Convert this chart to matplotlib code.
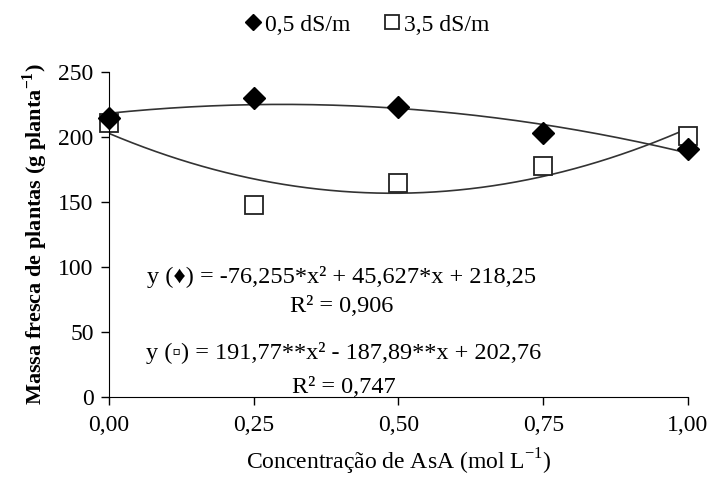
import numpy as np
import matplotlib
matplotlib.use('Agg')
import matplotlib.pyplot as plt

plt.rcParams['font.family'] = ['Liberation Serif', 'DejaVu Serif', 'DejaVu Sans']
plt.rcParams['mathtext.fontset'] = 'custom'
plt.rcParams['mathtext.rm'] = 'Liberation Serif'

# %% Data
asa = [0.0, 0.25, 0.50, 0.75, 1.0]
y_05 = [215, 230, 223, 203, 191]      # 0,5 dS/m
y_35 = [211, 148, 165, 178, 201]      # 3,5 dS/m
coef_05 = [-76.255, 45.627, 218.25]
coef_35 = [191.77, -187.89, 202.76]
xticks = [0.0, 0.25, 0.50, 0.75, 1.0]
xticklabels = ['0,00', '0,25', '0,50', '0,75', '1,00']
yticks = [0, 50, 100, 150, 200, 250]

eq_05 = 'y (\u2666) = -76,255*x\u00b2 + 45,627*x + 218,25'
r2_05 = 'R\u00b2 = 0,906'
eq_35 = 'y (\u25ab) = 191,77**x\u00b2 - 187,89**x + 202,76'
r2_35 = 'R\u00b2 = 0,747'

# %% Plot
fig = plt.figure(figsize=(7.12, 4.78), dpi=100)
ax = fig.add_axes([109/712, 1-397/478, 579/712, 325/478])

xx = np.linspace(0, 1, 200)
ax.plot(xx, np.polyval(coef_05, xx), color='#333333', lw=1.2, zorder=1)
ax.plot(xx, np.polyval(coef_35, xx), color='#333333', lw=1.2, zorder=1)
ax.plot(asa, y_05, 'D', color='black', ms=11, label='0,5 dS/m', zorder=3, clip_on=False)
ax.plot(asa, y_35, 's', mfc='white', mec='#222222', mew=1.3, ms=13,
        label='3,5 dS/m', zorder=2, clip_on=False)

ax.set_xlim(0, 1)
ax.set_ylim(0, 250)
ax.set_xticks(xticks)
ax.set_xticklabels(xticklabels)
ax.set_yticks(yticks)
ax.tick_params(labelsize=17, length=6, direction='out', width=1)
ax.tick_params(axis='x', pad=7)
ax.tick_params(axis='y', pad=5)
for s in ['top', 'right']:
    ax.spines[s].set_visible(False)

ax.set_xlabel('Concentração de AsA (mol L$^{\\mathregular{-1}}$)', fontsize=17, labelpad=8)
ax.set_ylabel('Massa fresca de plantas (g planta$^{\\mathregular{-1}}$)', fontsize=16,
              fontweight='bold', labelpad=6)

txt = dict(transform=ax.transAxes, ha='center', va='center', fontsize=17.5)
ax.text(0.402, 0.369, eq_05, **txt)
ax.text(0.402, 0.277, r2_05, **txt)
ax.text(0.405, 0.135, eq_35, **txt)
ax.text(0.405, 0.030, r2_35, **txt)

fig.legend(loc='center', bbox_to_anchor=(0.513, 0.948), ncol=2, frameon=False,
           fontsize=17, handletextpad=0.0, columnspacing=1.3, handlelength=1.0,
           markerscale=0.75)

fig.savefig('out.png', dpi=100)
